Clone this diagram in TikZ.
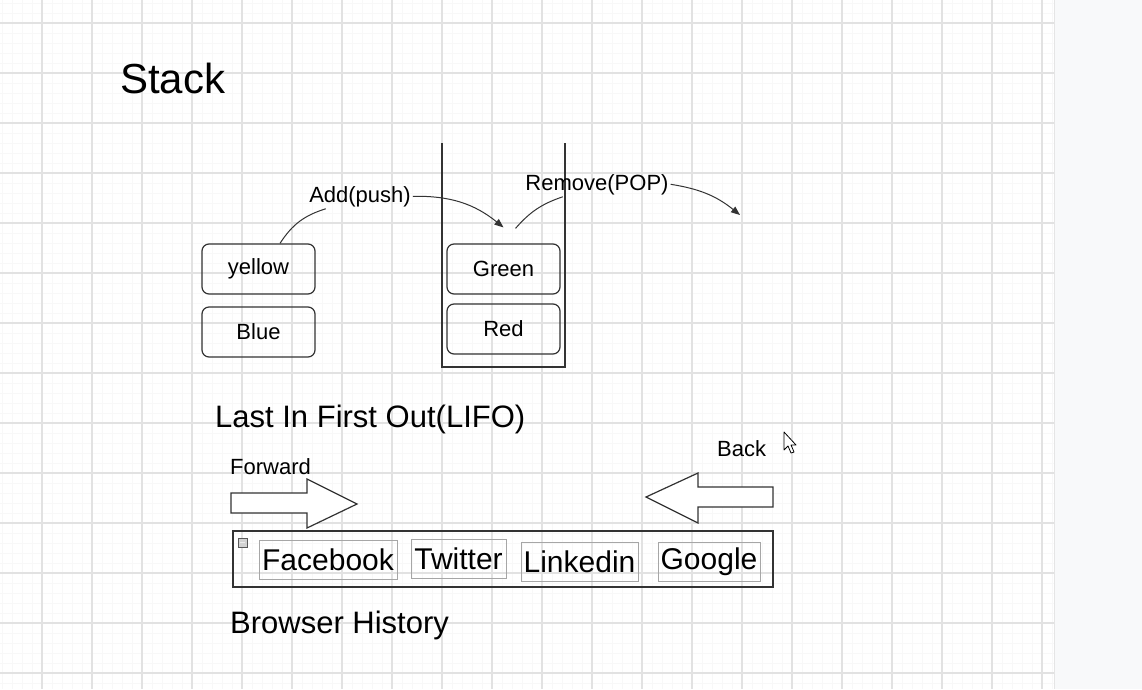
\documentclass[tikz,border=0pt]{standalone}
\usepackage{fontspec}
\setmainfont{Liberation Sans}
\usepackage{tikz}
\usetikzlibrary{positioning}
\usetikzlibrary{arrows.meta}
\usepackage{xcolor}
\definecolor{inkgray}{HTML}{333333}
\definecolor{gridmajor}{HTML}{E2E2E2}
\definecolor{gridminor}{HTML}{F8F8F8}
\definecolor{sidepanel}{HTML}{F8F9FA}
\newcommand\fsz[1]{\fontsize{#1}{#1}\selectfont}

\begin{document}
\begin{tikzpicture}[x=1pt, y=-1pt,
		card/.style={draw=inkgray, line width=1.2pt, rounded corners=7pt, minimum width=113pt, minimum height=50pt, inner sep=0pt, font=\fsz{22}},
		tab/.style={draw=gray!70, line width=0.8pt, minimum height=39pt, inner sep=0pt, font=\fsz{30}},
		lbl/.style={anchor=base, inner sep=2pt, font=\fsz{22}},
		link/.style={inkgray, line width=1pt},
		blockarrow/.style={draw=inkgray, line width=1.2pt, fill=white, line join=miter}]
	\useasboundingbox (0,0) rectangle (1142,689);
	% background grid
	\fill[white] (0,0) rectangle (1054,689);
	\foreach \x in {2,12,...,1052} \draw[gridminor, line width=0.8pt] (\x,0)--(\x,689);
	\foreach \y in {3,13,...,683} \draw[gridminor, line width=0.8pt] (0,\y)--(1054,\y);
	\foreach \x in {42,92,...,1042} \draw[gridmajor, line width=1.2pt] (\x,0)--(\x,689);
	\foreach \y in {23,73,...,673} \draw[gridmajor, line width=1.2pt] (0,\y)--(1054,\y);
	\fill[sidepanel] (1054,0) rectangle (1142,689);
	\draw[gray!20] (1054,0)--(1054,689);
	% stack
	\node[anchor=base west, inner sep=0pt, font=\fsz{42}] (title) at (120,93) {Stack};
	\draw[inkgray, line width=1.2pt] (442,143)--(442,367)--(565,367)--(565,143);
	\node[card] (yellow) at (258.5,269) {yellow};
	\node[card] (blue) at (258.5,332) {Blue};
	\node[card] (green) at (503.5,269) {Green};
	\node[card] (red) at (503.5,329) {Red};
	\node[lbl] (push) at (360,202) {Add(push)};
	\node[lbl] (pop) at (597,190) {Remove(POP)};
	\coordinate (popend) at (740,215);
	\draw[link] (yellow.50) to[bend left=20] (push.200);
	\draw[link, -{Triangle[length=9pt,width=7pt]}] (push.east) to[bend left=20] ([yshift=16pt]green.north);
	\draw[link] ([xshift=12pt,yshift=15pt]green.north) to[bend left=15] (pop.200);
	\draw[link, -{Triangle[length=9pt,width=7pt]}] (pop.east) to[bend left=15] (popend);
	\node[anchor=base west, inner sep=0pt, font=\fsz{31}] (lifo) at (215,427) {Last In First Out(LIFO)};
	% browser history
	\node[anchor=base west, inner sep=0pt, font=\fsz{22}] (forward) at (230,474) {Forward};
	\node[anchor=base west, inner sep=0pt, font=\fsz{22}] (back) at (717,456) {Back};
	\draw[blockarrow] (231,493)--(307,493)--(307,479)--(357,504)--(307,528)--(307,513)--(231,513)--cycle;
	\draw[blockarrow] (773,487)--(698,487)--(698,473)--(646,497)--(698,523)--(698,507)--(773,507)--cycle;
	\node[draw=inkgray, line width=1.2pt, minimum width=540pt, minimum height=56pt, inner sep=0pt] (history) at (503,559) {};
	\draw[gray!70!black, fill=gray!35] (238,538) rectangle (247,547);
	\draw[gray!15, line width=1pt] (240,542.5)--(245,542.5);
	\node[tab, minimum width=138pt] (facebook) at (328,559.5) {Facebook};
	\node[tab, minimum width=95pt] (twitter) at (458.5,559) {Twitter};
	\node[tab, minimum width=117pt] (linkedin) at (579.5,561.5) {Linkedin};
	\node[tab, minimum width=102pt] (google) at (709,562) {Google};
	\node[anchor=base west, inner sep=0pt, font=\fsz{31}] (caption) at (230,633) {Browser History};
	% mouse pointer
	\draw[black, fill=white, line width=0.8pt, line join=round] (784,432)--(784,450)--(788,446)--(791,453)--(794,452)--(791,445)--(796,445)--cycle;
\end{tikzpicture}
\end{document}
